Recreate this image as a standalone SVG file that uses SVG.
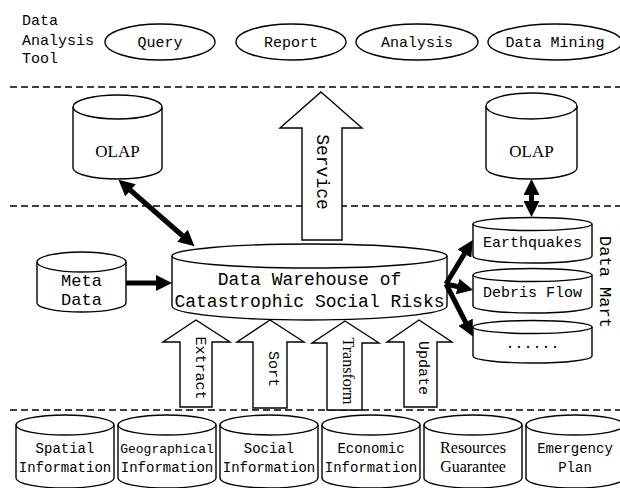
<svg xmlns="http://www.w3.org/2000/svg" width="620" height="488" viewBox="0 0 620 488">
<style>
.bg{fill:#fff}
.sh{fill:#fff;stroke:#000;stroke-width:1.4}
.dash{stroke:#000;stroke-width:1.6;stroke-dasharray:7 4;fill:none}
.mono{font-family:"Liberation Mono","DejaVu Sans Mono",monospace;fill:#000}
.serif{font-family:"Liberation Serif","Times New Roman",serif;fill:#000}
.thick{stroke:#000;stroke-width:5;fill:none}
.c{text-anchor:middle}
</style>
<defs>
<marker id="ah" markerUnits="userSpaceOnUse" viewBox="0 0 16 16" markerWidth="16" markerHeight="16" refX="2" refY="8" orient="auto-start-reverse">
<path d="M0,0 L16,8 L0,16 z" fill="#000"/>
</marker>
<clipPath id="wclip"><rect x="160" y="230" width="300" height="79"/></clipPath>
</defs>
<rect class="bg" x="0" y="0" width="620" height="488"/>

<!-- layer separators -->
<g id="separators">
<line class="dash" x1="10" y1="87" x2="620" y2="87"/>
<line class="dash" x1="10" y1="206" x2="620" y2="206"/>
<line class="dash" x1="10" y1="410" x2="620" y2="410"/>
</g>

<!-- Data analysis tools -->
<g id="tool-label">
<text class="mono" x="22" y="25" font-size="15">Data</text>
<text class="mono" x="22" y="45" font-size="15">Analysis</text>
<text class="mono" x="22" y="63" font-size="15">Tool</text>
</g>
<g id="query"><ellipse class="sh" cx="160" cy="42" rx="55" ry="18"/><text class="mono c" x="160" y="47" font-size="15">Query</text></g>
<g id="report"><ellipse class="sh" cx="291" cy="42" rx="55" ry="18"/><text class="mono c" x="291" y="47" font-size="15">Report</text></g>
<g id="analysis"><ellipse class="sh" cx="417" cy="42" rx="61" ry="18"/><text class="mono c" x="417" y="47" font-size="15">Analysis</text></g>
<g id="data-mining"><ellipse class="sh" cx="555" cy="42" rx="67" ry="18"/><text class="mono c" x="555" y="47" font-size="15">Data Mining</text></g>

<!-- OLAP cylinders -->
<g id="olap-left">
<path class="sh" d="M73,107 L73,168 A44.5,11 0 0 0 162,168 L162,107"/>
<ellipse class="sh" cx="117.5" cy="107" rx="44.5" ry="12"/>
<text class="serif c" x="117.5" y="157" font-size="17">OLAP</text>
</g>
<g id="olap-right">
<path class="sh" d="M486,106 L486,168 A45.5,11 0 0 0 577,168 L577,106"/>
<ellipse class="sh" cx="531.5" cy="106" rx="45.5" ry="13"/>
<text class="serif c" x="531.5" y="157" font-size="17">OLAP</text>
</g>

<!-- Service arrow -->
<g id="service">
<polygon class="sh" points="321,92 362,128 342,128 342,240 302,240 302,128 280,128"/>
<text class="mono c" transform="translate(322,172) rotate(90)" font-size="18" dominant-baseline="central">Service</text>
</g>

<!-- Meta data -->
<g id="meta-data">
<path class="sh" d="M37,262 L37,303 A44.5,9 0 0 0 126,303 L126,262"/>
<ellipse class="sh" cx="81.5" cy="262" rx="44.5" ry="10"/>
<text class="mono c" x="81.5" y="286" font-size="17">Meta</text>
<text class="mono c" x="81.5" y="305" font-size="17">Data</text>
</g>

<!-- Warehouse -->
<g id="warehouse">
<path class="sh" d="M172,256 L172,306 A137.5,14 0 0 0 447,306 L447,256"/>
<ellipse class="sh" cx="309.5" cy="256" rx="137.5" ry="12"/>
<g clip-path="url(#wclip)">
<text class="mono c" x="309.5" y="285" font-size="18">Data Warehouse of</text>
<text class="mono c" x="309.5" y="307" font-size="18">Catastrophic Social Risks</text>
</g>
</g>

<!-- Data marts -->
<g id="earthquakes">
<path class="sh" d="M473,224 L473,256 A59.5,7 0 0 0 592,256 L592,224"/>
<ellipse class="sh" cx="532.5" cy="224" rx="59.5" ry="6.5"/>
<text class="mono c" x="532.5" y="247" font-size="15">Earthquakes</text>
</g>
<g id="debris-flow">
<path class="sh" d="M473,275 L473,306 A59.5,7 0 0 0 592,306 L592,275"/>
<ellipse class="sh" cx="532.5" cy="275" rx="59.5" ry="6.5"/>
<text class="mono c" x="532.5" y="297" font-size="15">Debris Flow</text>
</g>
<g id="more-marts">
<path class="sh" d="M473,327 L473,356 A59.5,7 0 0 0 592,356 L592,327"/>
<ellipse class="sh" cx="532.5" cy="327" rx="59.5" ry="6.5"/>
<text class="mono c" x="532.5" y="348" font-size="15">......</text>
</g>
<g id="data-mart-label">
<text class="mono c" transform="translate(604,282) rotate(90)" font-size="17" dominant-baseline="central">Data Mart</text>
</g>

<!-- ETL arrows -->
<g id="extract">
<polygon class="sh" points="196,320 230,342 212,342 212,407 180,407 180,342 163,342"/>
<text class="mono c" transform="translate(199,368) rotate(90)" font-size="15" dominant-baseline="central">Extract</text>
</g>
<g id="sort">
<polygon class="sh" points="270,320 304,342 287,342 287,408 253,408 253,342 237,342"/>
<text class="mono c" transform="translate(272,369) rotate(90)" font-size="15" dominant-baseline="central">Sort</text>
</g>
<g id="transform">
<polygon class="sh" points="345,321 379,343 362,343 362,410 327,410 327,343 312,343"/>
<text class="serif c" transform="translate(348,371) rotate(90)" font-size="16" dominant-baseline="central">Transform</text>
</g>
<g id="update">
<polygon class="sh" points="419,320 452,342 437,342 437,407 404,407 404,342 387,342"/>
<text class="mono c" transform="translate(422,368) rotate(90)" font-size="15" dominant-baseline="central">Update</text>
</g>

<!-- Source cylinders -->
<g id="spatial">
<path class="sh" d="M16,425 L16,478 A49,10 0 0 0 114,478 L114,425"/>
<ellipse class="sh" cx="65" cy="425" rx="49" ry="10"/>
<text class="mono c" x="65" y="453" font-size="14">Spatial</text>
<text class="mono c" x="65" y="472" font-size="14">Information</text>
</g>
<g id="geographical">
<path class="sh" d="M118,425 L118,478 A49,10 0 0 0 216,478 L216,425"/>
<ellipse class="sh" cx="167" cy="425" rx="49" ry="10"/>
<text class="mono c" x="167" y="453" font-size="13">Geographical</text>
<text class="mono c" x="167" y="472" font-size="14">Information</text>
</g>
<g id="social">
<path class="sh" d="M220,425 L220,478 A49,10 0 0 0 318,478 L318,425"/>
<ellipse class="sh" cx="269" cy="425" rx="49" ry="10"/>
<text class="mono c" x="269" y="453" font-size="14">Social</text>
<text class="mono c" x="269" y="472" font-size="14">Information</text>
</g>
<g id="economic">
<path class="sh" d="M322,425 L322,478 A49,10 0 0 0 420,478 L420,425"/>
<ellipse class="sh" cx="371" cy="425" rx="49" ry="10"/>
<text class="mono c" x="371" y="453" font-size="14">Economic</text>
<text class="mono c" x="371" y="472" font-size="14">Information</text>
</g>
<g id="resources">
<path class="sh" d="M424,425 L424,478 A49,10 0 0 0 522,478 L522,425"/>
<ellipse class="sh" cx="473" cy="425" rx="49" ry="10"/>
<text class="serif c" x="473" y="453" font-size="16">Resources</text>
<text class="serif c" x="473" y="472" font-size="16">Guarantee</text>
</g>
<g id="emergency">
<path class="sh" d="M526,425 L526,478 A49,10 0 0 0 624,478 L624,425"/>
<ellipse class="sh" cx="575" cy="425" rx="49" ry="10"/>
<text class="mono c" x="575" y="453" font-size="14">Emergency</text>
<text class="mono c" x="575" y="472" font-size="14">Plan</text>
</g>

<!-- connectors -->
<g id="connectors">
<line class="thick" x1="129" y1="189" x2="184" y2="237" marker-start="url(#ah)" marker-end="url(#ah)"/>
<line class="thick" x1="126" y1="283" x2="158" y2="283" marker-end="url(#ah)"/>
<line class="thick" x1="531.5" y1="193" x2="531.5" y2="203" marker-start="url(#ah)" marker-end="url(#ah)"/>
<line class="thick" x1="446" y1="284" x2="465.5" y2="252" marker-end="url(#ah)"/>
<line class="thick" x1="446" y1="284" x2="459.5" y2="287" marker-end="url(#ah)"/>
<line class="thick" x1="446" y1="284" x2="466.5" y2="324" marker-end="url(#ah)"/>
</g>
</svg>
